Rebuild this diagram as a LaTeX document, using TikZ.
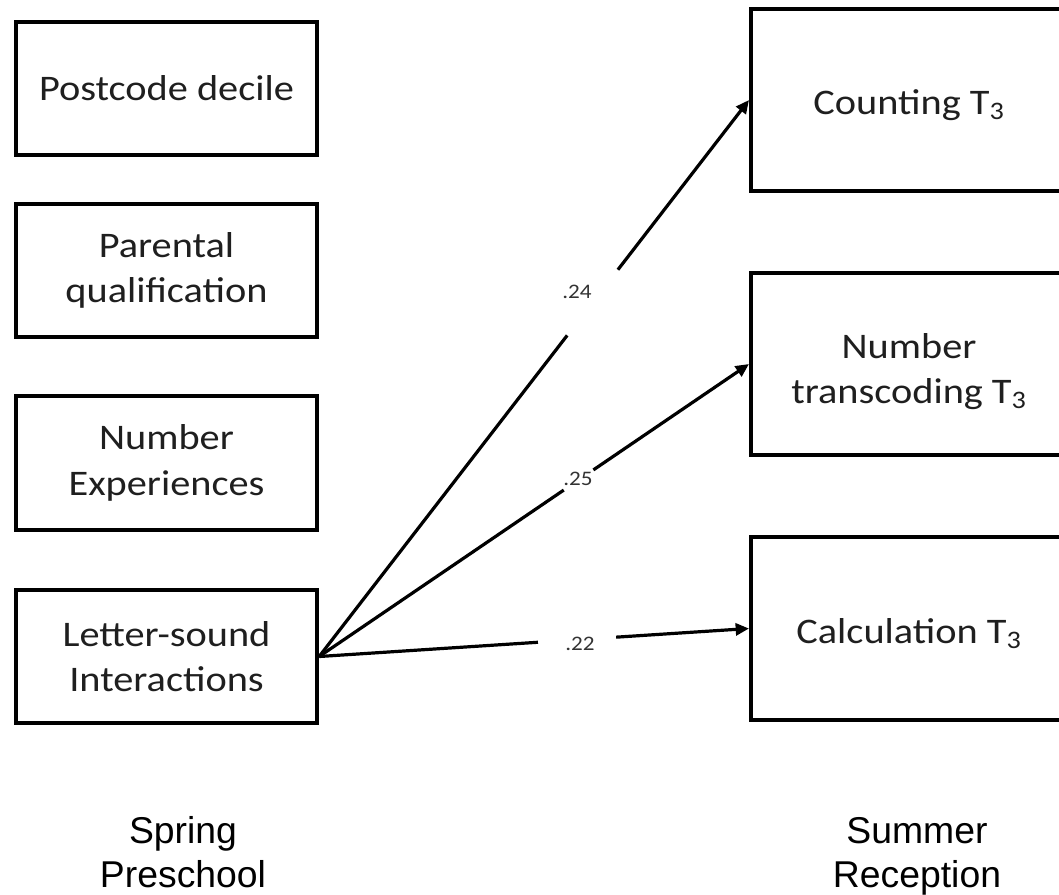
\documentclass[tikz,border=0pt]{standalone}
\usepackage{fontspec}
\setmainfont[FakeStretch=1.12]{Carlito}
\newfontfamily\arialf{Liberation Sans}
\usetikzlibrary{arrows.meta,calc}
\tikzset{
  box/.style={draw=black, line width=3pt, minimum width=226pt, minimum height=100pt,
    inner sep=0pt, align=center, font=\fontsize{27}{34}\selectfont, text=black!88},
  rbox/.style={draw=black, line width=3pt, minimum width=237pt, minimum height=137pt,
    inner sep=0pt, align=center, font=\fontsize{27}{34}\selectfont, text=black!88},
  path/.style={line width=2.4pt, draw=black},
  arr/.style={line width=2.4pt, draw=black, -{Triangle[length=10pt,width=9pt]}},
  coef/.style={font=\fontsize{15.5}{18}\selectfont, text=black!80, inner sep=0pt},
  period/.style={font=\arialf\fontsize{28}{33}\selectfont, text=black, anchor=base, inner sep=0pt}
}
\begin{document}
\begin{tikzpicture}[x=0.75pt,y=-0.75pt]
\useasboundingbox (0,0) rectangle (1059,894);
\clip (0,0) rectangle (1059,894);
\fill[white] (0,0) rectangle (1059,894);
% left boxes
\node[box] (L1) at (166.5,88.5) {Postcode decile};
\node[box] (L2) at (166.5,270.5) {Parental\\qualification};
\node[box] (L3) at (166.5,463) {Number\\Experiences};
\node[box] (L4) at (166.5,656.5) {Letter-sound\\Interactions};
% right boxes
\node[rbox] (R1) at (909,100) {\raisebox{-3.5pt}[\height][\depth]{Counting T\textsubscript{3}}};
\node[rbox] (R2) at (909,364) {\rule{0pt}{30pt}Number\\transcoding T\textsubscript{3}};
\node[rbox] (R3) at (909,628.5) {\raisebox{-4pt}[\height][\depth]{Calculation T\textsubscript{3}}};
% arrows with gaps
\draw[path] (L4.east) -- ($(L4.east)!0.577!(R1.west)$);
\draw[arr] ($(L4.east)!0.695!(R1.west)$) -- (R1.west);
\draw[path] (L4.east) -- ($(L4.east)!0.569!(R2.west)$);
\draw[arr] ($(L4.east)!0.638!(R2.west)$) -- (R2.west);
\draw[path] (L4.east) -- ($(L4.east)!0.509!(R3.west)$);
\draw[arr] ($(L4.east)!0.691!(R3.west)$) -- (R3.west);
% coefficients
\node[coef] (c1) at (577,292) {.24};
\node[coef] (c2) at (578,479) {.25};
\node[coef] (c3) at (580,644) {.22};
% periods
\node[period] (p1a) at (183,843) {Spring};
\node[period] (p1b) at (183,887) {Preschool};
\node[period] (p2a) at (917,843) {Summer};
\node[period] (p2b) at (917,887) {Reception};
\end{tikzpicture}
\end{document}
